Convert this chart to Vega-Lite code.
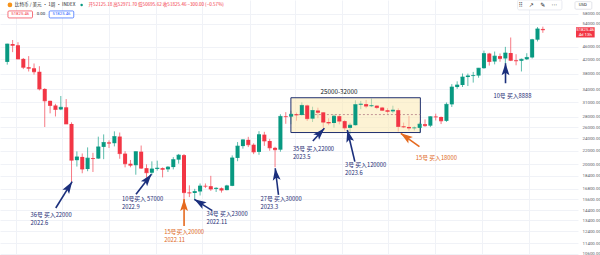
{
  "$schema": "https://vega.github.io/schema/vega-lite/v6.json",
  "width": 578,
  "height": 255,
  "autosize": {"type": "none"},
  "padding": {"left": 0, "top": 0, "right": 22, "bottom": 0},
  "background": "#ffffff",
  "config": {"view": {"stroke": null}, "font": "Noto Sans CJK SC"},
  "datasets": {
    "candles": [
      {"date": "2022-03-21", "open": 41260, "high": 46950, "low": 40470, "close": 46830},
      {"date": "2022-03-28", "open": 46830, "high": 48190, "low": 44220, "close": 46400},
      {"date": "2022-04-04", "open": 46400, "high": 47450, "low": 42100, "close": 42150},
      {"date": "2022-04-11", "open": 42150, "high": 42420, "low": 39200, "close": 39720},
      {"date": "2022-04-18", "open": 39720, "high": 42990, "low": 38540, "close": 39440},
      {"date": "2022-04-25", "open": 39440, "high": 40800, "low": 37700, "close": 38470},
      {"date": "2022-05-02", "open": 38470, "high": 40020, "low": 33710, "close": 34060},
      {"date": "2022-05-09", "open": 34060, "high": 34240, "low": 26000, "close": 31310},
      {"date": "2022-05-16", "open": 31310, "high": 31330, "low": 28650, "close": 30290},
      {"date": "2022-05-23", "open": 30290, "high": 30650, "low": 28020, "close": 29450},
      {"date": "2022-05-30", "open": 29450, "high": 32400, "low": 29300, "close": 29900},
      {"date": "2022-06-06", "open": 29900, "high": 31700, "low": 26560, "close": 26570},
      {"date": "2022-06-13", "open": 26570, "high": 26880, "low": 17600, "close": 20550},
      {"date": "2022-06-20", "open": 20550, "high": 21870, "low": 19640, "close": 21030},
      {"date": "2022-06-27", "open": 21030, "high": 21550, "low": 18730, "close": 19300},
      {"date": "2022-07-04", "open": 19300, "high": 22500, "low": 19000, "close": 20850},
      {"date": "2022-07-11", "open": 20850, "high": 21650, "low": 18900, "close": 20790},
      {"date": "2022-07-18", "open": 20790, "high": 24280, "low": 20750, "close": 22580},
      {"date": "2022-07-25", "open": 22580, "high": 24670, "low": 20700, "close": 23300},
      {"date": "2022-08-01", "open": 23300, "high": 23650, "low": 22400, "close": 23180},
      {"date": "2022-08-08", "open": 23180, "high": 25210, "low": 22660, "close": 24300},
      {"date": "2022-08-15", "open": 24300, "high": 25000, "low": 20760, "close": 21530},
      {"date": "2022-08-22", "open": 21530, "high": 21900, "low": 19530, "close": 20040},
      {"date": "2022-08-29", "open": 20040, "high": 20580, "low": 19540, "close": 19830},
      {"date": "2022-09-05", "open": 19830, "high": 21860, "low": 18540, "close": 21830},
      {"date": "2022-09-12", "open": 21830, "high": 22800, "low": 19320, "close": 19420},
      {"date": "2022-09-19", "open": 19420, "high": 19950, "low": 18130, "close": 18800},
      {"date": "2022-09-26", "open": 18800, "high": 20380, "low": 18470, "close": 19310},
      {"date": "2022-10-03", "open": 19310, "high": 20480, "low": 19080, "close": 19420},
      {"date": "2022-10-10", "open": 19420, "high": 19520, "low": 18190, "close": 19260},
      {"date": "2022-10-17", "open": 19260, "high": 19700, "low": 18900, "close": 19570},
      {"date": "2022-10-24", "open": 19570, "high": 21000, "low": 19250, "close": 20630},
      {"date": "2022-10-31", "open": 20630, "high": 21480, "low": 20050, "close": 21300},
      {"date": "2022-11-07", "open": 21300, "high": 21470, "low": 15590, "close": 16330},
      {"date": "2022-11-14", "open": 16330, "high": 17190, "low": 15820, "close": 16280},
      {"date": "2022-11-21", "open": 16280, "high": 16770, "low": 15480, "close": 16460},
      {"date": "2022-11-28", "open": 16460, "high": 17420, "low": 16000, "close": 17110},
      {"date": "2022-12-05", "open": 17110, "high": 17420, "low": 16860, "close": 17090},
      {"date": "2022-12-12", "open": 17090, "high": 18390, "low": 16530, "close": 16750},
      {"date": "2022-12-19", "open": 16750, "high": 16960, "low": 16400, "close": 16840},
      {"date": "2022-12-26", "open": 16840, "high": 16940, "low": 16330, "close": 16620},
      {"date": "2023-01-02", "open": 16620, "high": 17260, "low": 16600, "close": 17130},
      {"date": "2023-01-09", "open": 17130, "high": 21260, "low": 17090, "close": 20880},
      {"date": "2023-01-16", "open": 20880, "high": 23370, "low": 20400, "close": 22710},
      {"date": "2023-01-23", "open": 22710, "high": 23820, "low": 22300, "close": 23740},
      {"date": "2023-01-30", "open": 23740, "high": 24250, "low": 22550, "close": 22930},
      {"date": "2023-02-06", "open": 22930, "high": 23160, "low": 21450, "close": 21790},
      {"date": "2023-02-13", "open": 21790, "high": 25250, "low": 21350, "close": 24630},
      {"date": "2023-02-20", "open": 24630, "high": 25130, "low": 22750, "close": 23550},
      {"date": "2023-02-27", "open": 23550, "high": 23900, "low": 21970, "close": 22430},
      {"date": "2023-03-06", "open": 22430, "high": 22600, "low": 19550, "close": 22140},
      {"date": "2023-03-13", "open": 22140, "high": 28470, "low": 21820, "close": 28030},
      {"date": "2023-03-20", "open": 28030, "high": 28890, "low": 26600, "close": 27990},
      {"date": "2023-03-27", "open": 27990, "high": 29180, "low": 26520, "close": 28450},
      {"date": "2023-04-03", "open": 28450, "high": 28800, "low": 27200, "close": 28320},
      {"date": "2023-04-10", "open": 28320, "high": 30970, "low": 28170, "close": 30300},
      {"date": "2023-04-17", "open": 30300, "high": 30480, "low": 27130, "close": 27590},
      {"date": "2023-04-24", "open": 27590, "high": 30030, "low": 26940, "close": 29230},
      {"date": "2023-05-01", "open": 29230, "high": 29820, "low": 27670, "close": 28850},
      {"date": "2023-05-08", "open": 28850, "high": 28880, "low": 25810, "close": 26920},
      {"date": "2023-05-15", "open": 26920, "high": 27660, "low": 26330, "close": 26750},
      {"date": "2023-05-22", "open": 26750, "high": 28450, "low": 25880, "close": 28080},
      {"date": "2023-05-29", "open": 28080, "high": 28450, "low": 26500, "close": 27110},
      {"date": "2023-06-05", "open": 27110, "high": 27350, "low": 25350, "close": 25840},
      {"date": "2023-06-12", "open": 25840, "high": 26800, "low": 24800, "close": 26340},
      {"date": "2023-06-19", "open": 26340, "high": 31430, "low": 26240, "close": 30470},
      {"date": "2023-06-26", "open": 30470, "high": 31290, "low": 29500, "close": 30580},
      {"date": "2023-07-03", "open": 30580, "high": 31500, "low": 29700, "close": 30160},
      {"date": "2023-07-10", "open": 30160, "high": 31810, "low": 29950, "close": 30250},
      {"date": "2023-07-17", "open": 30250, "high": 30340, "low": 29500, "close": 29850},
      {"date": "2023-07-24", "open": 29850, "high": 29990, "low": 29100, "close": 29280},
      {"date": "2023-07-31", "open": 29280, "high": 29730, "low": 28580, "close": 29050},
      {"date": "2023-08-07", "open": 29050, "high": 30240, "low": 28700, "close": 29300},
      {"date": "2023-08-14", "open": 29300, "high": 29690, "low": 25170, "close": 26100},
      {"date": "2023-08-21", "open": 26100, "high": 26830, "low": 25800, "close": 26010},
      {"date": "2023-08-28", "open": 26010, "high": 28140, "low": 25330, "close": 25820},
      {"date": "2023-09-04", "open": 25820, "high": 26100, "low": 25370, "close": 25840},
      {"date": "2023-09-11", "open": 25840, "high": 26890, "low": 24900, "close": 26530},
      {"date": "2023-09-18", "open": 26530, "high": 27440, "low": 26050, "close": 26250},
      {"date": "2023-09-25", "open": 26250, "high": 28050, "low": 25990, "close": 27970},
      {"date": "2023-10-02", "open": 27970, "high": 28580, "low": 27240, "close": 27920},
      {"date": "2023-10-09", "open": 27920, "high": 28000, "low": 26550, "close": 27160},
      {"date": "2023-10-16", "open": 27160, "high": 30940, "low": 26960, "close": 30530},
      {"date": "2023-10-23", "open": 30530, "high": 35250, "low": 29970, "close": 34520},
      {"date": "2023-10-30", "open": 34520, "high": 35950, "low": 34080, "close": 35020},
      {"date": "2023-11-06", "open": 35020, "high": 38000, "low": 34530, "close": 37060},
      {"date": "2023-11-13", "open": 37060, "high": 37980, "low": 34770, "close": 37360},
      {"date": "2023-11-20", "open": 37360, "high": 38430, "low": 35630, "close": 37450},
      {"date": "2023-11-27", "open": 37450, "high": 39530, "low": 36870, "close": 39460},
      {"date": "2023-12-04", "open": 39460, "high": 44700, "low": 39300, "close": 43780},
      {"date": "2023-12-11", "open": 43780, "high": 44000, "low": 40200, "close": 41370},
      {"date": "2023-12-18", "open": 41370, "high": 44400, "low": 40550, "close": 42990},
      {"date": "2023-12-25", "open": 42990, "high": 43800, "low": 41300, "close": 42280},
      {"date": "2024-01-01", "open": 42280, "high": 45900, "low": 40750, "close": 43940},
      {"date": "2024-01-08", "open": 43940, "high": 49050, "low": 41500, "close": 41730},
      {"date": "2024-01-15", "open": 41730, "high": 43580, "low": 40280, "close": 41580},
      {"date": "2024-01-22", "open": 41580, "high": 42250, "low": 38550, "close": 42030},
      {"date": "2024-01-29", "open": 42030, "high": 43880, "low": 41800, "close": 42580},
      {"date": "2024-02-05", "open": 42580, "high": 48590, "low": 42260, "close": 48300},
      {"date": "2024-02-12", "open": 48300, "high": 52820, "low": 47700, "close": 52125},
      {"date": "2024-02-19", "open": 52125, "high": 52972, "low": 50696, "close": 51825}
    ],
    "zone": [
      {"start": "2023-03-26T17:00:00Z", "end": "2023-09-11T22:00:00Z", "low": 25000, "high": 32000, "mid": 28400}
    ],
    "zoneLabel": [
      {"date": "2023-05-28T14:00:00Z", "price": 33340, "text": "25000-32000"}
    ],
    "arrows": [
      {"who": "36号", "tailDate": "2022-05-23T10:00:00Z", "tailPrice": 14640, "headDate": "2022-06-13T19:00:00Z", "headPrice": 17650, "heading": 32},
      {"who": "10号", "tailDate": "2022-09-05T07:00:00Z", "tailPrice": 16140, "headDate": "2022-09-25T10:00:00Z", "headPrice": 18600, "heading": 38},
      {"who": "15号", "tailDate": "2022-11-07T02:00:00Z", "tailPrice": 12890, "headDate": "2022-11-07T02:00:00Z", "headPrice": 15610, "heading": 0},
      {"who": "34号", "tailDate": "2022-12-14T00:00:00Z", "tailPrice": 14370, "headDate": "2022-11-20T12:00:00Z", "headPrice": 15570, "heading": 302},
      {"who": "27号", "tailDate": "2023-03-10T12:00:00Z", "tailPrice": 16060, "headDate": "2023-03-06T05:00:00Z", "headPrice": 19410, "heading": 353},
      {"who": "35号", "tailDate": "2023-04-24T10:00:00Z", "tailPrice": 23550, "headDate": "2023-05-09T12:00:00Z", "headPrice": 25770, "heading": 43},
      {"who": "3号", "tailDate": "2023-06-18T07:00:00Z", "tailPrice": 20340, "headDate": "2023-06-08T10:00:00Z", "headPrice": 25460, "heading": 346},
      {"who": "15号", "tailDate": "2023-09-10T17:00:00Z", "tailPrice": 22620, "headDate": "2023-08-17T07:00:00Z", "headPrice": 24870, "heading": 305},
      {"who": "10号", "tailDate": "2024-01-01T05:00:00Z", "tailPrice": 35460, "headDate": "2024-01-01T05:00:00Z", "headPrice": 40870, "heading": 0}
    ],
    "notes": [
      {"who": "36号", "date": "2022-04-20T10:00:00Z", "price": 13940, "text": "36号 买入22000"},
      {"who": "36号", "date": "2022-04-20T10:00:00Z", "price": 13120, "text": "2022.6"},
      {"who": "10号", "date": "2022-08-17T22:00:00Z", "price": 15610, "text": "10号买入 57000"},
      {"who": "10号", "date": "2022-08-17T22:00:00Z", "price": 14700, "text": "2022.9"},
      {"who": "15号", "date": "2022-10-12T02:00:00Z", "price": 12350, "text": "15号买入20000"},
      {"who": "15号", "date": "2022-10-12T02:00:00Z", "price": 11640, "text": "2022.11"},
      {"who": "34号", "date": "2022-12-06T07:00:00Z", "price": 14030, "text": "34号 买入23000"},
      {"who": "34号", "date": "2022-12-06T07:00:00Z", "price": 13240, "text": "2022.11"},
      {"who": "27号", "date": "2023-02-14T22:00:00Z", "price": 15610, "text": "27号 买入30000"},
      {"who": "27号", "date": "2023-02-14T22:00:00Z", "price": 14700, "text": "2023.3"},
      {"who": "35号", "date": "2023-03-29T07:00:00Z", "price": 22250, "text": "35号 买入22000"},
      {"who": "35号", "date": "2023-03-29T07:00:00Z", "price": 20990, "text": "2023.5"},
      {"who": "3号", "date": "2023-06-05T10:00:00Z", "price": 19870, "text": "3号 买入120000"},
      {"who": "3号", "date": "2023-06-05T10:00:00Z", "price": 18750, "text": "2023.6"},
      {"who": "15号", "date": "2023-09-05T22:00:00Z", "price": 20880, "text": "15号 买入18000"},
      {"who": "10号", "date": "2023-12-16T10:00:00Z", "price": 32400, "text": "10号 买入8888"}
    ]
  },
  "layer": [
    {
      "data": {"name": "candles"},
      "mark": {"type": "rule", "strokeWidth": 1, "opacity": 0.65},
      "encoding": {
        "x": {
          "field": "date", "type": "temporal",
          "scale": {"type": "utc", "nice": false, "domain": [
            {"year": 2022, "month": 3, "date": 18, "hours": 1, "minutes": 12, "utc": true},
            {"year": 2024, "month": 3, "date": 29, "hours": 9, "minutes": 36, "utc": true}
          ]},
          "axis": {
            "title": null, "labels": false, "ticks": false, "domain": false,
            "grid": true, "gridColor": "#f0f2f7", "gridWidth": 1,
            "values": [
              {"year": 2022, "month": 4, "date": 1, "utc": true},
              {"year": 2022, "month": 5, "date": 1, "utc": true},
              {"year": 2022, "month": 6, "date": 1, "utc": true},
              {"year": 2022, "month": 7, "date": 1, "utc": true},
              {"year": 2022, "month": 8, "date": 1, "utc": true},
              {"year": 2022, "month": 9, "date": 1, "utc": true},
              {"year": 2022, "month": 10, "date": 1, "utc": true},
              {"year": 2022, "month": 11, "date": 1, "utc": true},
              {"year": 2022, "month": 12, "date": 1, "utc": true},
              {"year": 2023, "month": 1, "date": 1, "utc": true},
              {"year": 2023, "month": 2, "date": 1, "utc": true},
              {"year": 2023, "month": 3, "date": 1, "utc": true},
              {"year": 2023, "month": 4, "date": 1, "utc": true},
              {"year": 2023, "month": 5, "date": 1, "utc": true},
              {"year": 2023, "month": 6, "date": 1, "utc": true},
              {"year": 2023, "month": 7, "date": 1, "utc": true},
              {"year": 2023, "month": 8, "date": 1, "utc": true},
              {"year": 2023, "month": 9, "date": 1, "utc": true},
              {"year": 2023, "month": 10, "date": 1, "utc": true},
              {"year": 2023, "month": 11, "date": 1, "utc": true},
              {"year": 2023, "month": 12, "date": 1, "utc": true},
              {"year": 2024, "month": 1, "date": 1, "utc": true},
              {"year": 2024, "month": 2, "date": 1, "utc": true},
              {"year": 2024, "month": 3, "date": 1, "utc": true}
            ]
          }
        },
        "y": {
          "field": "low", "type": "quantitative",
          "scale": {"type": "log", "nice": false, "domain": [10490, 64000]},
          "axis": {
            "title": null, "orient": "right", "ticks": false, "domain": false,
            "grid": true, "gridColor": "#f0f2f7", "gridWidth": 1,
            "values": [10600, 11400, 12400, 13400, 14400, 15600, 16800, 18400, 20000, 22000, 24000, 26000, 28000, 31000, 34000, 38000, 42000, 46000, 54000, 58000],
            "format": ".2f", "labelFont": "Roboto", "labelFontSize": 4.4, "labelColor": "#5d606b",
            "labelPadding": 4, "labelOverlap": false, "labelBound": false, "labelFlush": false
          }
        },
        "y2": {"field": "high"},
        "color": {"condition": {"test": "datum.close >= datum.open", "value": "#089981"}, "value": "#f23645"}
      }
    },
    {
      "data": {"name": "zone"},
      "mark": {"type": "rect", "fill": "#fbeab0", "fillOpacity": 0.55, "stroke": "#1f2f6e", "strokeWidth": 1},
      "encoding": {
        "x": {"field": "start", "type": "temporal"},
        "x2": {"field": "end"},
        "y": {"field": "low", "type": "quantitative"},
        "y2": {"field": "high"}
      }
    },
    {
      "data": {"name": "zone"},
      "mark": {"type": "rule", "stroke": "#b27f86", "strokeWidth": 0.8, "strokeDash": [2, 2]},
      "encoding": {
        "x": {"field": "start", "type": "temporal"},
        "x2": {"field": "end"},
        "y": {"field": "mid", "type": "quantitative"}
      }
    },
    {
      "data": {"name": "candles"},
      "mark": {"type": "bar", "size": 4},
      "encoding": {
        "x": {"field": "date", "type": "temporal"},
        "y": {"field": "open", "type": "quantitative"},
        "y2": {"field": "close"},
        "color": {"condition": {"test": "datum.close >= datum.open", "value": "#089981"}, "value": "#f23645"}
      }
    },
    {
      "data": {"name": "candles"},
      "mark": {"type": "tick", "orient": "horizontal", "size": 4, "thickness": 1},
      "encoding": {
        "x": {"field": "date", "type": "temporal"},
        "y": {"field": "close", "type": "quantitative"},
        "color": {"condition": {"test": "datum.close >= datum.open", "value": "#089981"}, "value": "#f23645"}
      }
    },
    {
      "mark": {"type": "rule", "stroke": "#f23645", "strokeWidth": 0.8, "opacity": 0.45},
      "encoding": {"y": {"datum": 51825.46, "type": "quantitative"}}
    },
    {
      "data": {"name": "zoneLabel"},
      "mark": {"type": "text", "fontSize": 6.3, "fill": "#131722", "align": "center", "baseline": "middle"},
      "encoding": {
        "x": {"field": "date", "type": "temporal"},
        "y": {"field": "price", "type": "quantitative"},
        "text": {"field": "text"}
      }
    },
    {
      "data": {"name": "arrows"},
      "mark": {"type": "rule", "strokeWidth": 1.6},
      "encoding": {
        "x": {"field": "tailDate", "type": "temporal"},
        "y": {"field": "tailPrice", "type": "quantitative"},
        "x2": {"field": "headDate"},
        "y2": {"field": "headPrice"},
        "color": {"condition": {"test": "datum.who === '15号'", "value": "#e56a1f"}, "value": "#1b2f7c"}
      }
    },
    {
      "data": {"name": "arrows"},
      "mark": {"type": "point", "filled": true, "opacity": 1, "size": 110, "shape": "M0,0L0.75,2.3L0,1.8L-0.75,2.3Z"},
      "encoding": {
        "x": {"field": "headDate", "type": "temporal"},
        "y": {"field": "headPrice", "type": "quantitative"},
        "angle": {"field": "heading", "type": "quantitative", "scale": {"domain": [0, 360], "range": [0, 360]}},
        "color": {"condition": {"test": "datum.who === '15号'", "value": "#e56a1f"}, "value": "#1b2f7c"}
      }
    },
    {
      "data": {"name": "notes"},
      "mark": {"type": "text", "fontSize": 5.8, "align": "left", "baseline": "middle"},
      "encoding": {
        "x": {"field": "date", "type": "temporal"},
        "y": {"field": "price", "type": "quantitative"},
        "text": {"field": "text"},
        "color": {"condition": {"test": "datum.who === '15号'", "value": "#e06a1e"}, "value": "#1c2b73"}
      }
    },
    {
      "data": {"values": [{"date": "2022-03-24T12:00:00Z", "price": 61790}]},
      "mark": {"type": "point", "shape": "circle", "filled": true, "size": 22, "color": "#f7931a", "opacity": 1},
      "encoding": {"x": {"field": "date", "type": "temporal"}, "y": {"field": "price", "type": "quantitative"}}
    },
    {
      "data": {"values": [{"date": "2022-06-26T05:00:00Z", "price": 61790}]},
      "mark": {"type": "point", "shape": "circle", "filled": true, "size": 6, "color": "#089981", "opacity": 1},
      "encoding": {"x": {"field": "date", "type": "temporal"}, "y": {"field": "price", "type": "quantitative"}}
    },
    {
      "data": {"values": [{"date": "2022-03-30T22:00:00Z", "price": 61790, "text": "比特币 / 美元 · 1周 · INDEX"}]},
      "mark": {"type": "text", "fontSize": 4.6, "align": "left", "baseline": "middle", "fill": "#131722"},
      "encoding": {"x": {"field": "date", "type": "temporal"}, "y": {"field": "price", "type": "quantitative"}, "text": {"field": "text"}}
    },
    {
      "data": {"values": [{"date": "2022-07-05T05:00:00Z", "price": 61790, "text": "开52125.18 高52971.70 低50695.62 收51825.46 −300.00 (−0.57%)"}]},
      "mark": {"type": "text", "fontSize": 4.6, "align": "left", "baseline": "middle", "fill": "#f23645"},
      "encoding": {"x": {"field": "date", "type": "temporal"}, "y": {"field": "price", "type": "quantitative"}, "text": {"field": "text"}}
    },
    {
      "data": {"values": [
        {"start": "2022-03-21T22:00:00Z", "end": "2022-04-23T00:00:00Z", "side": "sell"},
        {"start": "2022-05-14T19:00:00Z", "end": "2022-06-15T22:00:00Z", "side": "buy"}
      ]},
      "mark": {"type": "rect", "fill": "#ffffff", "strokeWidth": 0.7, "cornerRadius": 1},
      "encoding": {
        "x": {"field": "start", "type": "temporal"}, "x2": {"field": "end"},
        "y": {"datum": 59220, "type": "quantitative"}, "y2": {"datum": 56350},
        "stroke": {"condition": {"test": "datum.side === 'sell'", "value": "#f23645"}, "value": "#2962ff"}
      }
    },
    {
      "data": {"values": [
        {"date": "2022-04-06T23:00:00Z", "text": "51825.46", "side": "sell"},
        {"date": "2022-05-03T22:00:00Z", "text": "0.00", "side": "spread"},
        {"date": "2022-05-30T22:00:00Z", "text": "51825.46", "side": "buy"}
      ]},
      "mark": {"type": "text", "fontSize": 4.3, "align": "center", "baseline": "middle", "font": "Roboto"},
      "encoding": {
        "x": {"field": "date", "type": "temporal"},
        "y": {"datum": 57760, "type": "quantitative"},
        "text": {"field": "text"},
        "color": {"condition": [
          {"test": "datum.side === 'sell'", "value": "#f23645"},
          {"test": "datum.side === 'buy'", "value": "#2962ff"}
        ], "value": "#131722"}
      }
    },
    {
      "data": {"values": [{"start": "2024-01-17T02:00:00Z", "end": "2024-03-14T22:00:00Z"}]},
      "mark": {"type": "rect", "fill": "#ffffff", "stroke": "#e0e3eb", "strokeWidth": 0.7, "cornerRadius": 1.5},
      "encoding": {
        "x": {"field": "start", "type": "temporal"}, "x2": {"field": "end"},
        "y": {"datum": 64000, "type": "quantitative"}, "y2": {"datum": 59640}
      }
    },
    {
      "data": {"values": [
        {"date": "2024-01-21T00:00:00Z", "text": "⠿"},
        {"date": "2024-02-04T00:00:00Z", "text": "↗"},
        {"date": "2024-02-19T00:00:00Z", "text": "✎"},
        {"date": "2024-03-05T00:00:00Z", "text": "···"}
      ]},
      "mark": {"type": "text", "fontSize": 6, "align": "center", "baseline": "middle", "fill": "#131722", "font": "DejaVu Sans"},
      "encoding": {
        "x": {"field": "date", "type": "temporal"},
        "y": {"datum": 61600, "type": "quantitative"},
        "text": {"field": "text"}
      }
    },
    {
      "data": {"values": [{"start": "2024-04-01T00:00:00Z", "end": "2024-04-23T00:00:00Z"}]},
      "mark": {"type": "rect", "fill": "#ffffff", "stroke": "#d1d4dc", "strokeWidth": 0.6, "cornerRadius": 1},
      "encoding": {
        "x": {"field": "start", "type": "temporal"}, "x2": {"field": "end"},
        "y": {"datum": 63250, "type": "quantitative"}, "y2": {"datum": 59930}
      }
    },
    {
      "data": {"values": [{"date": "2024-04-11T07:00:00Z", "text": "USD"}]},
      "mark": {"type": "text", "fontSize": 4.3, "align": "center", "baseline": "middle", "fill": "#131722", "font": "Roboto"},
      "encoding": {
        "x": {"field": "date", "type": "temporal"},
        "y": {"datum": 61560, "type": "quantitative"},
        "text": {"field": "text"}
      }
    },
    {
      "data": {"values": [{"start": "2024-04-02T07:00:00Z", "end": "2024-04-26T17:00:00Z"}]},
      "mark": {"type": "rect", "fill": "#f23645"},
      "encoding": {
        "x": {"field": "start", "type": "temporal"}, "x2": {"field": "end"},
        "y": {"datum": 52750, "type": "quantitative"}, "y2": {"datum": 49070}
      }
    },
    {
      "data": {"values": [
        {"date": "2024-04-14T10:00:00Z", "price": 51825.46, "text": "51825.46"},
        {"date": "2024-04-14T10:00:00Z", "price": 49950, "text": "4d 13h"}
      ]},
      "mark": {"type": "text", "fontSize": 4.3, "align": "center", "baseline": "middle", "fill": "#ffffff", "font": "Roboto"},
      "encoding": {
        "x": {"field": "date", "type": "temporal"},
        "y": {"field": "price", "type": "quantitative"},
        "text": {"field": "text"}
      }
    }
  ]
}
